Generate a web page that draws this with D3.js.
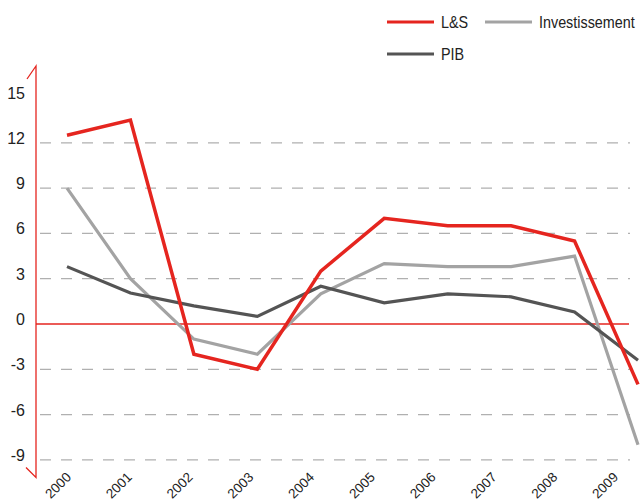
<!DOCTYPE html>
<html>
<head>
<meta charset="utf-8">
<script src="https://cdn.jsdelivr.net/npm/d3@7/dist/d3.min.js"></script>
<style>
html, body { margin: 0; padding: 0; background: #fff; }
svg { display: block; }
</style>
</head>
<body>
<svg id="chart" width="640" height="500"></svg>
<script>
const years = ["2000","2001","2002","2003","2004","2005","2006","2007","2008","2009"];
const ls = [12.5, 13.5, -2.0, -3.0, 3.5, 7.0, 6.5, 6.5, 5.5, -4.0];
const investissement = [9.0, 3.0, -1.0, -2.0, 2.0, 4.0, 3.8, 3.8, 4.5, -8.0];
const pib = [3.8, 2.05, 1.2, 0.5, 2.5, 1.4, 2.0, 1.8, 0.8, -2.4];
const yTicks = [15, 12, 9, 6, 3, 0, -3, -6, -9];
const gridTicks = [12, 9, 6, 3, -3, -6, -9];
const seriesNames = ["L&S", "Investissement", "PIB"];

const RED = "#e5251f", GRAY = "#a3a3a3", DARK = "#545454";

const svg = d3.select("#chart");
const x = d3.scalePoint().domain(years).range([67, 638]);
const xLabel = d3.scalePoint().domain(years).range([72, 619]);
const y = d3.scaleLinear().domain([0, 15]).range([324, 97.5]);

// gridlines
svg.append("g").selectAll("line").data(gridTicks).join("line")
  .attr("x1", 40).attr("x2", 630)
  .attr("y1", d => y(d)).attr("y2", d => y(d))
  .attr("stroke", "#b0b0b0").attr("stroke-width", 1.3)
  .attr("stroke-dasharray", "11,10");

// zero line
svg.append("line")
  .attr("x1", 36).attr("x2", 629)
  .attr("y1", y(0)).attr("y2", y(0))
  .attr("stroke", RED).attr("stroke-width", 1.3);

// y axis with caps
svg.append("path")
  .attr("d", `M27,79 L36,66 L36,477.5 L26,467.5`)
  .attr("fill", "none").attr("stroke", RED).attr("stroke-width", 1.3);

// y labels
svg.append("g").selectAll("text").data(yTicks).join("text")
  .attr("x", 25).attr("y", d => y(d) + 1)
  .attr("text-anchor", "end")
  .attr("font-family", "Liberation Sans, Arial, sans-serif")
  .attr("font-size", 16).attr("fill", "#222")
  .text(d => d);

// x labels
svg.append("g").selectAll("text").data(years).join("text")
  .attr("transform", d => `translate(${xLabel(d)},478) rotate(-45)`)
  .attr("text-anchor", "end")
  .attr("font-family", "Liberation Sans, Arial, sans-serif")
  .attr("font-size", 13.5).attr("fill", "#222")
  .text(d => d);

const line = d3.line().x((d, i) => x(years[i])).y(d => y(d));
const series = [
  {name: "Investissement", values: investissement, color: GRAY, w: 3.2},
  {name: "PIB", values: pib, color: DARK, w: 3.2},
  {name: "L&S", values: ls, color: RED, w: 3.5}
];
svg.append("g").selectAll("path").data(series).join("path")
  .attr("d", d => line(d.values))
  .attr("fill", "none")
  .attr("stroke", d => d.color)
  .attr("stroke-width", d => d.w)
  .attr("stroke-linejoin", "miter");

// legend
const legend = [
  {name: seriesNames[0], color: RED, x: 387, y: 22},
  {name: seriesNames[1], color: GRAY, x: 485, y: 22},
  {name: seriesNames[2], color: DARK, x: 387, y: 54}
];
const lg = svg.append("g").selectAll("g").data(legend).join("g")
  .attr("transform", d => `translate(${d.x},${d.y})`);
lg.append("line").attr("x1", 0).attr("x2", 47).attr("y1", 0).attr("y2", 0)
  .attr("stroke", d => d.color).attr("stroke-width", 3.2);
lg.append("text")
  .attr("transform", "translate(54,6) scale(0.87,1)")
  .attr("font-family", "Liberation Sans, Arial, sans-serif")
  .attr("font-size", 16.5).attr("fill", "#222")
  .text(d => d.name);
</script>
</body>
</html>
